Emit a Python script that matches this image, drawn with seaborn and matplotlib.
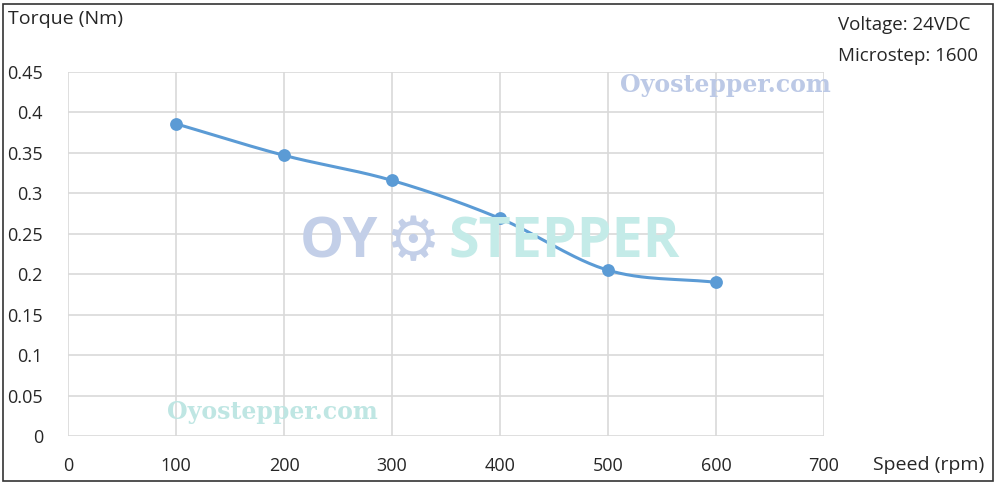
import numpy as np
import matplotlib.pyplot as plt
import seaborn as sns
from matplotlib.patches import Rectangle

sns.set_theme(style="white")
plt.rcParams['font.family'] = ['Open Sans', 'DejaVu Sans']

# data
speed = [100, 200, 300, 400, 500, 600]
torque = [0.386, 0.347, 0.316, 0.269, 0.205, 0.190]
x_ticks = [0, 100, 200, 300, 400, 500, 600, 700]
y_ticks = [0, 0.05, 0.1, 0.15, 0.2, 0.25, 0.3, 0.35, 0.4, 0.45]
y_labels = ['0', '0.05', '0.1', '0.15', '0.2', '0.25', '0.3', '0.35', '0.4', '0.45']

blue = '#5B9BD5'


def smooth(xs, ys, n=30):
    # catmull-rom curve through the points, like excel's smoothed line
    xs, ys = np.asarray(xs, float), np.asarray(ys, float)
    px = np.concatenate([[2 * xs[0] - xs[1]], xs, [2 * xs[-1] - xs[-2]]])
    py = np.concatenate([[2 * ys[0] - ys[1]], ys, [2 * ys[-1] - ys[-2]]])
    ox, oy = [], []
    t = np.linspace(0, 1, n)
    for i in range(1, len(px) - 2):
        for p, out in ((px, ox), (py, oy)):
            p0, p1, p2, p3 = p[i - 1], p[i], p[i + 1], p[i + 2]
            out.extend(0.5 * (2 * p1 + (-p0 + p2) * t
                              + (2 * p0 - 5 * p1 + 4 * p2 - p3) * t ** 2
                              + (-p0 + 3 * p1 - 3 * p2 + p3) * t ** 3))
    return ox, oy


fig = plt.figure(figsize=(10, 4.87), dpi=100)
ax = fig.add_axes([0.068, 0.1047, 0.756, 0.7474])

# watermarks
fig.text(0.725, 0.825, 'Oyostepper.com', family='DejaVu Serif', weight='bold',
         fontsize=17, color='#bcc9e6', ha='center', va='center', zorder=0)
fig.text(0.272, 0.155, 'Oyostepper.com', family='DejaVu Serif', weight='bold',
         fontsize=17, color='#bfe6e3', ha='center', va='center', zorder=0)
fig.text(0.378, 0.50, 'OY', weight='bold', fontsize=40, color='#c3cfe8',
         ha='right', va='center', zorder=0)
fig.text(0.413, 0.50, '\u2699', family='DejaVu Sans', fontsize=44, color='#c3cfe8',
         ha='center', va='center', zorder=0)
fig.text(0.448, 0.50, 'STEPPER', weight='bold', fontsize=40, color='#c4ebe8',
         ha='left', va='center', zorder=0)
ax.set_facecolor('none')

cx, cy = smooth(speed, torque)
ax.plot(cx, cy, color=blue, lw=2.2, zorder=3)
sns.scatterplot(x=speed, y=torque, ax=ax, color=blue, s=85, edgecolor=blue,
                linewidth=0, zorder=4)

ax.set_xlim(0, 700)
ax.set_ylim(0, 0.45)
ax.set_xticks(x_ticks)
ax.set_yticks(y_ticks)
ax.set_yticklabels(y_labels)
ax.grid(True, color='#d9d9d9', lw=1.2)
for s in ax.spines.values():
    s.set_visible(False)
ax.tick_params(labelsize=13, colors='#262626', length=0)
ax.tick_params(axis='x', pad=15)
ax.tick_params(axis='y', pad=18)
ax.set_xlabel('')
ax.set_ylabel('')

fig.text(0.008, 0.96, 'Torque (Nm)', fontsize=14, color='#262626', va='center')
fig.text(0.873, 0.045, 'Speed (rpm)', fontsize=14, color='#262626', va='center')
fig.text(0.838, 0.948, 'Voltage: 24VDC', fontsize=13.5, color='#262626', va='center')
fig.text(0.838, 0.885, 'Microstep: 1600', fontsize=13.5, color='#262626', va='center')

fig.patches.append(Rectangle((0.003, 0.012), 0.99, 0.98, transform=fig.transFigure,
                             fill=False, edgecolor='#333333', lw=1.2))

fig.savefig('out.png', dpi=100)
